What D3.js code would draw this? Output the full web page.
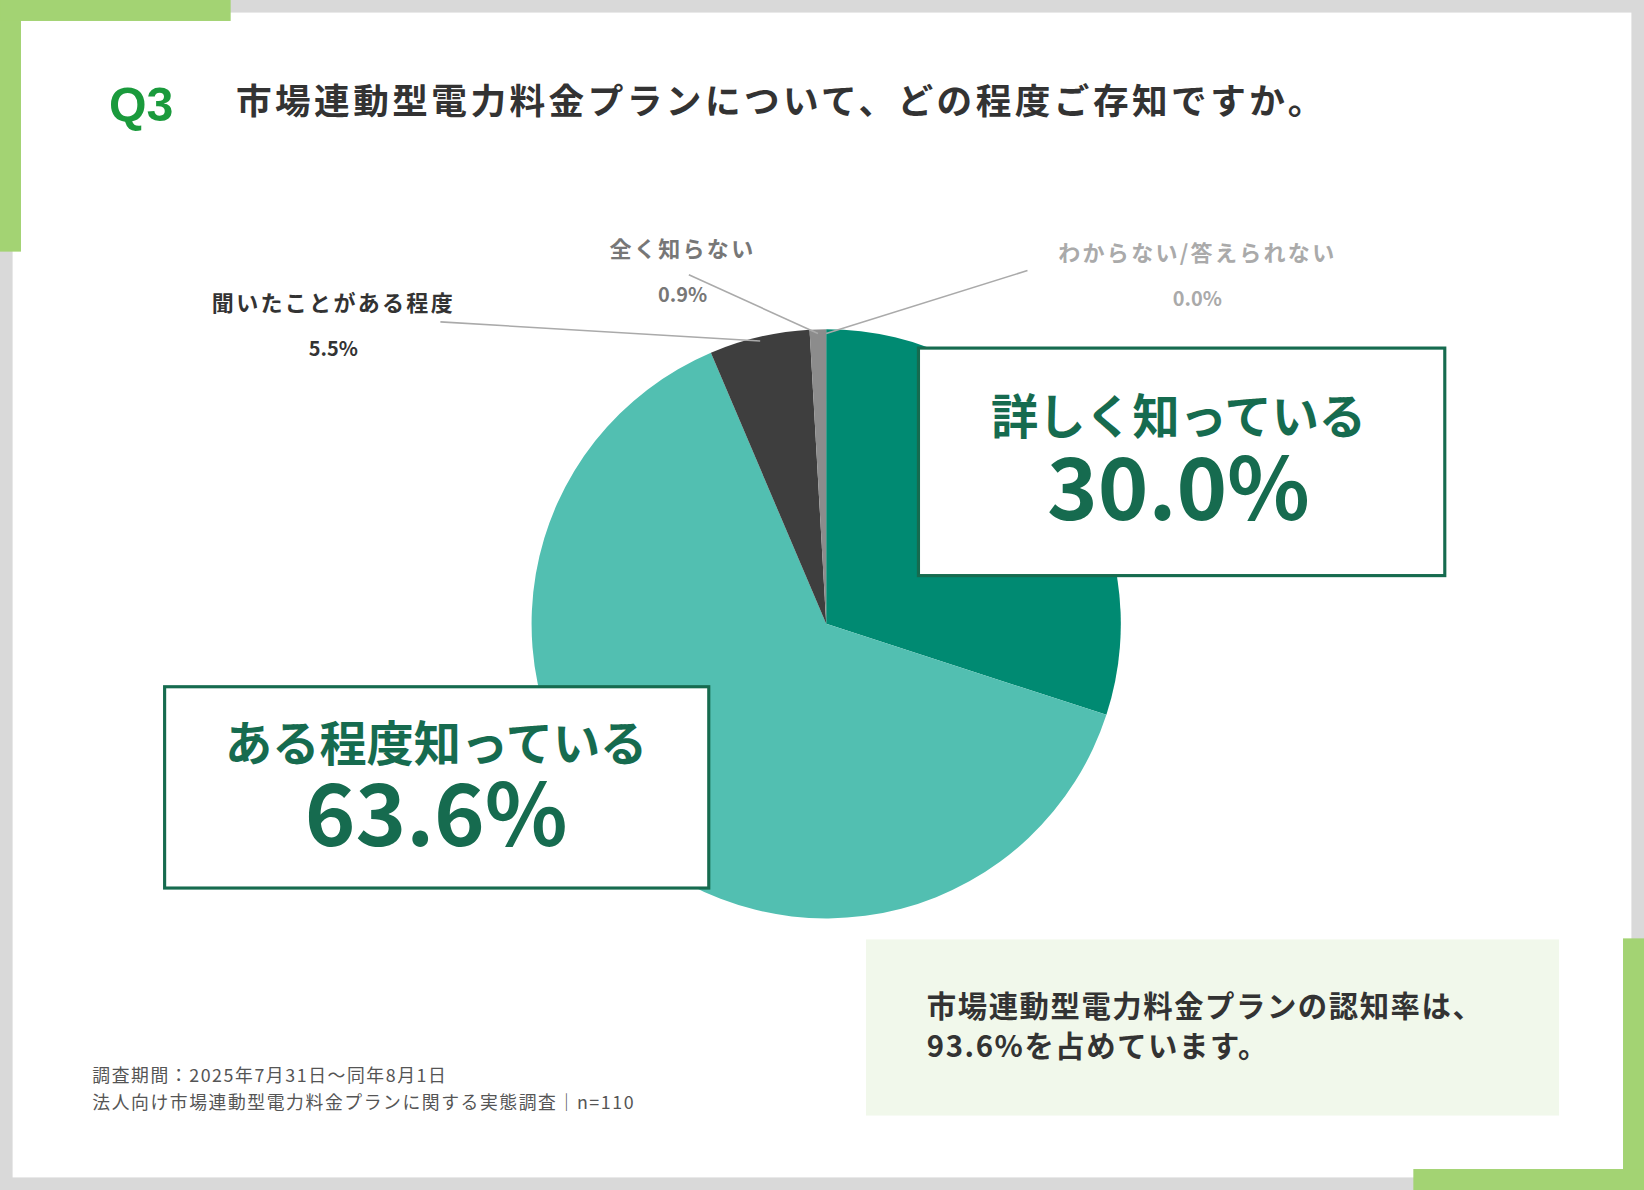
<!DOCTYPE html>
<html><head><meta charset="utf-8">
<script src="https://cdn.jsdelivr.net/npm/d3@7/dist/d3.min.js"></script>
<style>body{margin:0;background:#fff}svg{display:block}</style>
</head><body>
<script>
const categories=["詳しく知っている","ある程度知っている","聞いたことがある程度","全く知らない","わからない/答えられない"];
const values=[30.0,63.6,5.5,0.9,0.0];
const colors=["#008a72","#52bfb1","#3e3e3e","#8c8c8c","#bbbbbb"];
const F="'Noto Sans CJK JP','Noto Sans',sans-serif";
const svg=d3.select("body").append("svg").attr("width",1644).attr("height",1190).attr("viewBox","0 0 1568 1135");
svg.append("rect").attr("width",1568).attr("height",1135).attr("fill","#d9d9d9");
svg.append("rect").attr("x",12).attr("y",12).attr("width",1544).attr("height",1111).attr("fill","#fff");
const g1="#a3d373";
svg.append("rect").attr("x",0).attr("y",0).attr("width",20).attr("height",240).attr("fill",g1);
svg.append("rect").attr("x",0).attr("y",0).attr("width",220).attr("height",20).attr("fill",g1);
svg.append("rect").attr("x",1548).attr("y",895).attr("width",20).attr("height",240).attr("fill",g1);
svg.append("rect").attr("x",1348).attr("y",1115).attr("width",220).attr("height",20).attr("fill",g1);
svg.append("text").attr("x",104).attr("y",115).attr("font-family","Liberation Sans,Arial").attr("font-weight",700).attr("font-size",46).attr("fill","#1a9a3c").text("Q3");
svg.append("text").attr("x",225).attr("y",109).attr("font-family",F).attr("font-weight",700).attr("font-size",34).attr("letter-spacing",3.3).attr("fill","#333").text("市場連動型電力料金プランについて、どの程度ご存知ですか。");
const cx=788,cy=595,r=281;
const pie=d3.pie().sort(null).value(d=>d)(values);
const arc=d3.arc().innerRadius(0).outerRadius(r);
const pg=svg.append("g").attr("transform",`translate(${cx},${cy})`);
pg.selectAll("path").data(pie).join("path").attr("d",arc).attr("fill",(d,i)=>colors[i]);
const ang=d=>(d.startAngle+d.endAngle)/2;
const pt=(a,rr)=>[cx+rr*Math.sin(a),cy-rr*Math.cos(a)];
const leaders=[[2,[420,307]],[3,[657,262]],[4,[980,258]]];
leaders.forEach(([i,p])=>{const e=pt(ang(pie[i]),r-4);
 svg.append("line").attr("x1",p[0]).attr("y1",p[1]).attr("x2",e[0]).attr("y2",e[1]).attr("stroke","#aaa").attr("stroke-width",1.5);});
const small=[[2,318,297,"#333",[318,340]],[3,651,245,"#777",[651,288]],[4,1142,249,"#aaa",[1142,292]]];
small.forEach(([i,x,y,c,p])=>{
 svg.append("text").attr("x",x).attr("y",y).attr("text-anchor","middle").attr("font-family",F).attr("font-weight",700).attr("font-size",21).attr("letter-spacing",2.2).attr("fill",c).text(categories[i]);
 svg.append("text").attr("x",p[0]).attr("y",p[1]).attr("text-anchor","middle").attr("font-family",F).attr("font-weight",700).attr("font-size",19).attr("fill",c).text(values[i].toFixed(1)+"%");
});
const dg="#166b4f";
[[0,876,332,502,217,1124,414,496],[1,157,655,519,192,416,726,807]].forEach(([i,x,y,w,h,tx,ty1,ty2])=>{
 svg.append("rect").attr("x",x).attr("y",y).attr("width",w).attr("height",h).attr("fill","#fff").attr("stroke",dg).attr("stroke-width",3);
 svg.append("text").attr("x",tx).attr("y",ty1).attr("text-anchor","middle").attr("font-family",F).attr("font-weight",700).attr("font-size",45).attr("fill",dg).text(categories[i]);
 svg.append("text").attr("x",tx).attr("y",ty2).attr("text-anchor","middle").attr("font-family",F).attr("font-weight",700).attr("font-size",82).attr("fill",dg).text(values[i].toFixed(1)+"%");
});
svg.append("rect").attr("x",826).attr("y",896).attr("width",661).attr("height",168).attr("fill","#f1f8eb");
svg.append("text").attr("x",884).attr("y",970).attr("font-family",F).attr("font-weight",700).attr("font-size",28).attr("letter-spacing",1.5).attr("fill","#333").text("市場連動型電力料金プランの認知率は、");
svg.append("text").attr("x",884).attr("y",1008).attr("font-family",F).attr("font-weight",700).attr("font-size",28).attr("letter-spacing",1.5).attr("fill","#333").text("93.6%を占めています。");
svg.append("text").attr("x",88).attr("y",1032).attr("font-family",F).attr("font-size",17).attr("letter-spacing",1.5).attr("fill","#555").text("調査期間：2025年7月31日〜同年8月1日");
svg.append("text").attr("x",88).attr("y",1058).attr("font-family",F).attr("font-size",17).attr("letter-spacing",1.5).attr("fill","#555").text("法人向け市場連動型電力料金プランに関する実態調査｜n=110");
</script>
</body></html>
